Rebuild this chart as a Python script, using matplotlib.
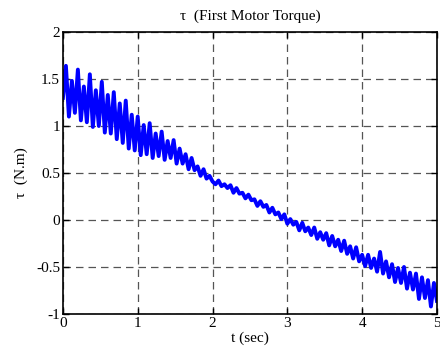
import matplotlib
matplotlib.use("Agg")
import matplotlib.pyplot as plt
import numpy as np

tau_0_to_2 = [
    1.30, 1.64, 1.10, 1.48, 1.14, 1.60, 1.06, 1.42, 1.04, 1.55,
    0.99, 1.38, 1.00, 1.47, 0.93, 1.33, 0.92, 1.36, 0.86, 1.24,
    0.82, 1.27, 0.76, 1.12, 0.74, 1.10, 0.69, 1.01, 0.70, 1.03,
    0.66, 0.92, 0.68, 0.94, 0.64, 0.84, 0.66, 0.85, 0.60, 0.76,
    0.60, 0.70, 0.54, 0.66, 0.53, 0.57, 0.47, 0.54, 0.44, 0.47,
    0.41,
]
tau_2_to_5 = [
    0.38, 0.42, 0.36, 0.38, 0.34, 0.37, 0.29, 0.34, 0.28, 0.29,
    0.23, 0.27, 0.21, 0.22, 0.15, 0.20, 0.14, 0.16, 0.08, 0.13,
    0.06, 0.08, 0.01, 0.06, -0.04, 0.01, -0.05, -0.02, -0.11, -0.03,
    -0.12, -0.08, -0.16, -0.08, -0.20, -0.13, -0.21, -0.14, -0.27, -0.17,
    -0.28, -0.21, -0.33, -0.22, -0.36, -0.28, -0.41, -0.29, -0.44, -0.37,
    -0.49, -0.37, -0.51, -0.41, -0.55, -0.34, -0.57, -0.44, -0.61, -0.47,
    -0.66, -0.51, -0.67, -0.50, -0.73, -0.56, -0.74, -0.57, -0.84, -0.61,
    -0.83, -0.64, -0.92, -0.67, -0.86,
]
tau = np.array(tau_0_to_2 + tau_2_to_5)
t = np.linspace(0, 5, len(tau))

x_ticks = [0, 1, 2, 3, 4, 5]
y_ticks = [-1, -0.5, 0, 0.5, 1, 1.5, 2]

plt.rcParams['font.family'] = ['Liberation Serif', 'DejaVu Serif']
plt.rcParams['font.size'] = 11

fig = plt.figure(figsize=(4.4, 3.62), dpi=100)
ax = fig.add_axes([0.143, 0.1326, 0.85, 0.779])

ax.plot(t, tau, color='#0000ff', lw=2.8)

ax.set_xlim(0, 5)
ax.set_ylim(-1, 2)
ax.set_xticks(x_ticks)
ax.set_yticks(y_ticks)
ax.set_xticklabels([str(v) for v in x_ticks])
ax.set_yticklabels(['-1', '-0.5', '0', '0.5', '1', '1.5', '2'])
ax.tick_params(direction='in', length=4, width=1, top=True, right=True, pad=2)
for s in ax.spines.values():
    s.set_linewidth(1.2)

ax.grid(True, color='#555555', linestyle=(0, (6, 4)), linewidth=0.9)

ax.set_title('τ  (First Motor Torque)', fontsize=11, pad=9)
ax.set_xlabel('t (sec)', labelpad=1)
ax.set_ylabel('τ  (N.m)', labelpad=6)

fig.savefig('out.png', dpi=100)
